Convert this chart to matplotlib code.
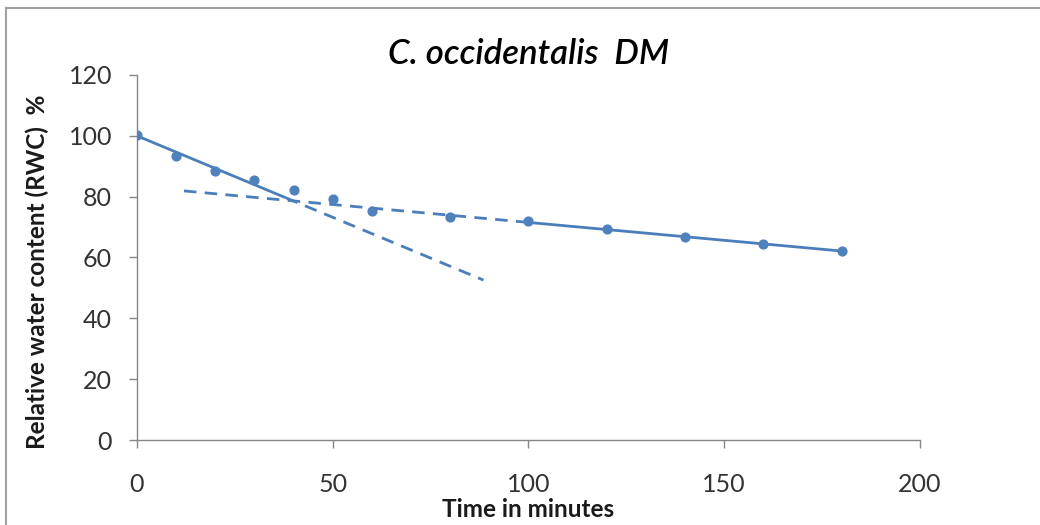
import numpy as np
import matplotlib.pyplot as plt
from matplotlib.lines import Line2D

# ---------- Data ----------
time_min = [0, 10, 20, 30, 40, 50, 60, 80, 100, 120, 140, 160, 180]
rwc_pct = [100.2, 93.5, 88.4, 85.5, 82.2, 79.1, 75.4, 73.3, 71.9, 69.3, 66.8, 64.3, 62.1]

# two fitted phases: (slope, intercept), solid x-range, dashed x-range
fast_fit = (-0.536, 100.0)
fast_solid = [0, 38]
fast_dash = [38, 88.5]

slow_fit = (-0.1177, 83.3)
slow_dash = [12, 100]
slow_solid = [100, 180]

BLUE = "#4F81BD"
LINE = "#4A7EBB"
FONT = ["Lato", "DejaVu Sans"]

plt.rcParams["font.family"] = FONT

fig = plt.figure(figsize=(10.4, 5.25), dpi=100)
ax = fig.add_axes([0.1317, 0.1619, 0.7529, 0.6953])


def fit_line(fit, xr, style):
    xs = np.array(xr, dtype=float)
    ys = fit[0] * xs + fit[1]
    ax.plot(xs, ys, color=LINE, lw=2.0, linestyle=style, dashes=(4.5, 3) if style == "--" else (None, None),
            solid_capstyle="butt", zorder=2)


fit_line(fast_fit, fast_solid, "-")
fit_line(fast_fit, fast_dash, "--")
fit_line(slow_fit, slow_dash, "--")
fit_line(slow_fit, slow_solid, "-")

ax.scatter(time_min, rwc_pct, s=40, color=BLUE, zorder=3)

ax.set_xlim(0, 200)
ax.set_ylim(0, 120)
ax.set_xticks(range(0, 201, 50))
ax.set_yticks(range(0, 121, 20))

for side in ["top", "right"]:
    ax.spines[side].set_visible(False)
for side in ["left", "bottom"]:
    ax.spines[side].set_color("#868686")
    ax.spines[side].set_linewidth(1.0)
ax.tick_params(direction="out", length=6, width=1.0, color="#868686",
               labelsize=18, labelcolor="#333333")
ax.tick_params(axis="x", pad=18)
ax.tick_params(axis="y", pad=12)

ax.set_title("C. occidentalis  DM", fontsize=25, style="italic", fontweight="semibold",
             color="black", pad=8)
ax.set_xlabel("Time in minutes", fontsize=17.5, fontweight="bold", color="#1a1a1a", labelpad=1)
ax.set_ylabel("Relative water content (RWC)  %", fontsize=17.5, fontweight="bold", color="#1a1a1a")
ax.yaxis.set_label_coords(-0.112, 0.46)

# chart frame (left and top edges visible)
fig.add_artist(Line2D([0.006, 0.006], [0.0, 0.985], transform=fig.transFigure, color="#A0A0A0", lw=1.5))
fig.add_artist(Line2D([0.006, 1.0], [0.985, 0.985], transform=fig.transFigure, color="#A0A0A0", lw=1.5))

fig.savefig("out.png", dpi=100)
